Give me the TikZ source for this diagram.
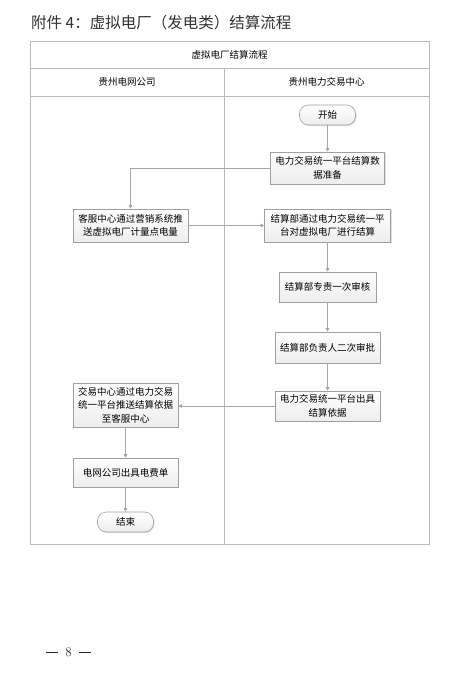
\documentclass[tikz,border=0pt]{standalone}
\usepackage{fontspec}
\newfontfamily\cjk{Noto Sans CJK SC}
\usetikzlibrary{arrows.meta,shadows}
\begin{document}
\begin{tikzpicture}[x=1pt,y=-1pt,
  tbl/.style={draw=gray!55, line width=0.8pt},
  box/.style={draw=gray!75, line width=0.6pt, top color=white, bottom color=gray!14,
    align=center, inner sep=0pt, font=\cjk\fontsize{9.5}{13.5}\selectfont,
    drop shadow={shadow xshift=1pt, shadow yshift=-1pt, opacity=0.25}},
  term/.style={box, rounded corners=9pt},
  hdr/.style={font=\cjk\fontsize{9.5}{12}\selectfont, inner sep=0pt},
  arr/.style={draw=gray!70, line width=0.6pt, -{Triangle[length=3.5pt,width=3.5pt]}}]
\useasboundingbox (0,0) rectangle (458,673);
\fill[white] (0,0) rectangle (458,673);

\node[anchor=west, inner sep=0pt, text=black!80, font=\cjk\fontsize{15.5}{16}\selectfont] (title) at (31,23) {附件 4：虚拟电厂（发电类）结算流程};

% table
\draw[tbl] (30,41) rectangle (429,544);
\draw[tbl] (30,68) -- (429,68);
\draw[tbl] (30,96) -- (429,96);
\draw[tbl] (224,68) -- (224,544);
\node[hdr] (h0) at (229.5,55) {虚拟电厂结算流程};
\node[hdr] (h1) at (127,82) {贵州电网公司};
\node[hdr] (h2) at (326.5,82) {贵州电力交易中心};

% nodes
\node[term, minimum width=56, minimum height=20] (start) at (327.5,115) {开始};
\node[box, minimum width=114, minimum height=32] (prep) at (327.5,168) {电力交易统一平台结算数\\据准备};
\node[box, minimum width=115, minimum height=33] (kefu) at (130.5,225.5) {客服中心通过营销系统推\\送虚拟电厂计量点电量};
\node[box, minimum width=126, minimum height=33] (settle) at (327.5,225.5) {结算部通过电力交易统一平\\台对虚拟电厂进行结算};
\node[box, minimum width=97, minimum height=30] (check) at (327.5,287) {结算部专责一次审核};
\node[box, minimum width=105, minimum height=31] (approve) at (327.5,347.5) {结算部负责人二次审批};
\node[box, minimum width=105, minimum height=30] (issue) at (327.5,406) {电力交易统一平台出具\\结算依据};
\node[box, minimum width=105, minimum height=44] (push) at (125.5,405) {交易中心通过电力交易\\统一平台推送结算依据\\至客服中心};
\node[box, minimum width=105, minimum height=29] (bill) at (125.5,472.5) {电网公司出具电费单};
\node[term, minimum width=56, minimum height=20] (end) at (125.5,522) {结束};

% connectors
\draw[arr] (start) -- (prep);
\draw[arr] (prep.west) -| (kefu.north);
\draw[arr] (kefu.east) -- (settle.west);
\draw[arr] (settle) -- (check);
\draw[arr] (check) -- (approve);
\draw[arr] (approve) -- (issue);
\draw[arr] (issue.west) -- (push.east |- issue.west);
\draw[arr] (push) -- (bill);
\draw[arr] (bill) -- (end);

\node[inner sep=0pt, text=black!85, font=\fontsize{13}{15}\selectfont] (page) at (68.5,652) {\rule[0.3em]{12pt}{0.6pt}\hspace{7pt}8\hspace{7pt}\rule[0.3em]{12pt}{0.6pt}};
\end{tikzpicture}
\end{document}
